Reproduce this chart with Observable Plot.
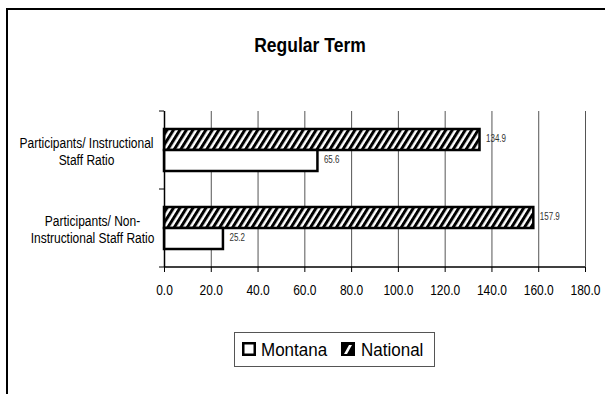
<!DOCTYPE html>
<html>
<head>
<meta charset="utf-8">
<script src="https://cdn.jsdelivr.net/npm/d3@7"></script>
<script src="https://cdn.jsdelivr.net/npm/@observablehq/plot@0.6"></script>
<style>
  html, body { margin: 0; padding: 0; background: #fff; }
  body { font-family: "Liberation Sans", Arial, sans-serif; }
  #wrap { position: relative; width: 605px; height: 394px; overflow: hidden; }
  #chart { position: absolute; left: 0; top: 0; }
  #frame { position: absolute; left: 6px; top: 8px; width: 700px; height: 500px;
           border-top: 2px solid #000; border-left: 2px solid #000; box-sizing: border-box; }
  #title { position: absolute; left: 210px; top: 35px; width: 200px; text-align: center;
           font-weight: bold; font-size: 17.5px; line-height: 20px; color: #000;
           transform: scaleY(1.12); transform-origin: 50% 50%; }
  #legend { position: absolute; left: 234px; top: 332px; width: 201px; height: 35px;
            box-sizing: border-box; border: 1px solid #555; background: #fff; }
  .sw { position: absolute; top: 9px; width: 14px; height: 14px; }
  .lt { position: absolute; top: 8px; font-size: 17px; line-height: 17px; color: #000; white-space: nowrap;
        transform: scaleY(1.1); transform-origin: 50% 50%; }
</style>
</head>
<body>
<svg width="0" height="0" style="position:absolute">
  <defs>
    <pattern id="hatch" patternUnits="userSpaceOnUse" width="5.5" height="5.5" patternTransform="rotate(32)">
      <rect x="0" y="0" width="5.5" height="5.5" fill="#fff"></rect>
      <rect x="0" y="0" width="3" height="5.5" fill="#000"></rect>
    </pattern>
  </defs>
</svg>
<div id="wrap">
  <div id="chart"></div>
  <div id="frame"></div>
  <div id="title">Regular Term</div>
  <div id="legend">
    <svg class="sw" style="left:7px" viewBox="0 0 14 14"><rect x="1.25" y="1.25" width="11.5" height="11.5" fill="#fff" stroke="#000" stroke-width="2.5"></rect></svg>
    <div class="lt" style="left:26px">Montana</div>
    <svg class="sw" style="left:106px" viewBox="0 0 14 14"><rect x="0" y="0" width="14" height="14" fill="#000"></rect><polygon points="3,12 6,12 11,3 8,3" fill="#fff"></polygon></svg>
    <div class="lt" style="left:126px">National</div>
  </div>
</div>
<script>
const categories = [
  "Participants/ Instructional\nStaff Ratio",
  "Participants/ Non-\nInstructional Staff Ratio"
];
const seriesNames = ["National", "Montana"];
const nationalValues = [134.9, 157.9];
const montanaValues = [65.6, 25.2];
const xTicks = [0, 20, 40, 60, 80, 100, 120, 140, 160, 180];

const data = categories.flatMap((c, i) => [
  {cat: c, series: "National", value: nationalValues[i]},
  {cat: c, series: "Montana", value: montanaValues[i]}
]);
const fmt = d3.format(".1f");

const W = 605, H = 394, ML = 164, MR = 20, MT = 111, MB = 127;
const SY = 1.27; // vertical stretch of chart text

const plot = Plot.plot({
  width: W,
  height: H,
  marginLeft: ML,
  marginRight: MR,
  marginTop: MT,
  marginBottom: MB,
  style: {fontFamily: "'Liberation Sans', Arial, sans-serif", fontSize: "12px", background: "transparent", color: "#000"},
  x: {domain: [0, 180]},
  y: {domain: seriesNames, paddingInner: 0, paddingOuter: 0.773, axis: null},
  fy: {domain: categories, padding: 0},
  marks: [
    Plot.gridX(xTicks, {stroke: "#555", strokeOpacity: 1, strokeWidth: 1}),
    Plot.barX(data.filter(d => d.series === "National"), {fy: "cat", y: "series", x: "value", fill: "url(#hatch)", stroke: "#000", strokeWidth: 2.5}),
    Plot.barX(data.filter(d => d.series === "Montana"), {fy: "cat", y: "series", x: "value", fill: "#fff", stroke: "#000", strokeWidth: 2.5}),
    Plot.text(data, {fy: "cat", y: "series", x: "value", text: d => fmt(d.value), dx: 6, dy: -1, textAnchor: "start", fontSize: 8, fill: "#333"}),
    Plot.ruleX([0], {stroke: "#000", strokeWidth: 1.5}),
    Plot.axisX({ticks: xTicks, tickFormat: fmt, tickSize: 5, tickPadding: 12, fontSize: 12, label: null}),
    Plot.axisFy({ticks: [categories[0]], anchor: "left", tickSize: 0, tickPadding: 0, textAnchor: "middle", dx: -78, dy: 1, lineHeight: 1.1, fontSize: 12, label: null}),
    Plot.axisFy({ticks: [categories[1]], anchor: "left", tickSize: 0, tickPadding: 0, textAnchor: "middle", dx: -72, dy: 1, lineHeight: 1.1, fontSize: 12, label: null})
  ]
});

// axis line and boundary ticks derived from the scales
const fy = plot.scale("fy");
const xs = plot.scale("x");
const svg = d3.select(plot);
const bw = fy.bandwidth;
const bounds = categories.map(c => fy.apply(c)).concat([fy.apply(categories[categories.length - 1]) + bw]);
const x0 = xs.apply(0), x1 = xs.apply(180);
const g = svg.append("g").attr("stroke", "#000");
g.append("line").attr("x1", x0).attr("x2", x1).attr("y1", bounds[bounds.length - 1]).attr("y2", bounds[bounds.length - 1]).attr("stroke-width", 1.5);
bounds.forEach(b => {
  g.append("line").attr("x1", x0 - 5).attr("x2", x0).attr("y1", b).attr("y2", b).attr("stroke-width", 1);
});

// stretch chart text vertically about its own anchor point
svg.selectAll("text").each(function() {
  const t = this;
  let tr = t.getAttribute("transform") || "";
  const x = +(t.getAttribute("x") || 0), y = +(t.getAttribute("y") || 0);
  if (x || y) {
    tr += ` translate(${x},${y})`;
    t.removeAttribute("x");
    t.removeAttribute("y");
    t.querySelectorAll("tspan").forEach(ts => { if (ts.getAttribute("x") !== null) ts.setAttribute("x", +ts.getAttribute("x") - x); });
  }
  t.setAttribute("transform", (tr + ` scale(1,${SY})`).trim());
});

document.getElementById("chart").appendChild(plot);
</script>
</body>
</html>
